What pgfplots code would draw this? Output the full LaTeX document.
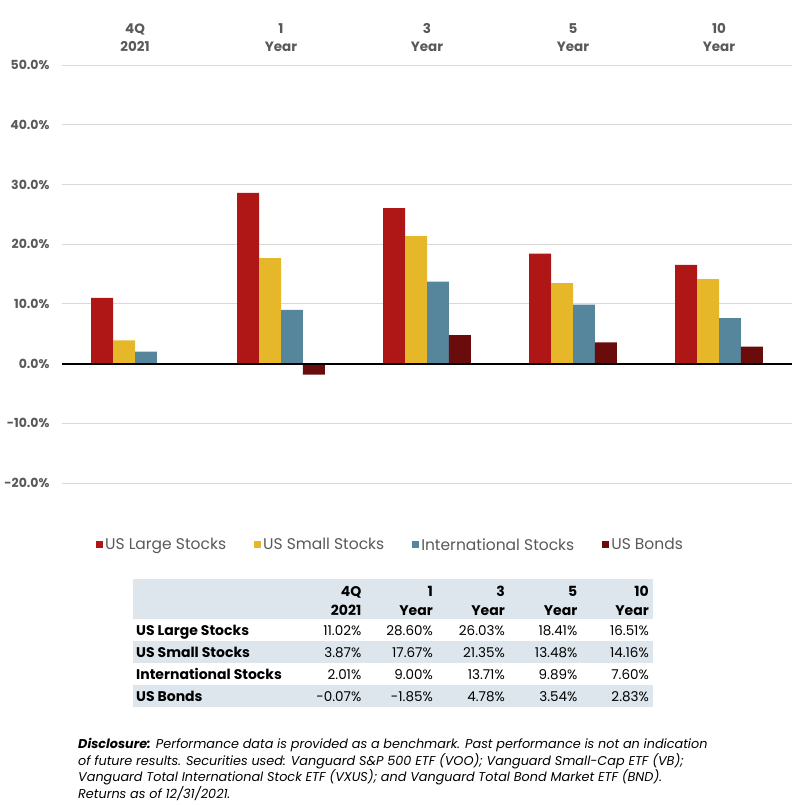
\documentclass[border=0pt]{standalone}
\usepackage{pgfplots}
\pgfplotsset{compat=1.18}
\usepackage{fontspec}
\setmainfont{Poppins}
\definecolor{cRed}{HTML}{AF1616}
\definecolor{cYel}{HTML}{E5B729}
\definecolor{cBlue}{HTML}{55869B}
\definecolor{cBond}{HTML}{6A0C0C}
\definecolor{tgray}{HTML}{595959}
\definecolor{ggray}{HTML}{D9D9D9}
\definecolor{tblue}{HTML}{DCE6EC}
\begin{document}
\begin{tikzpicture}[x=1pt,y=1pt]
\path[use as bounding box] (0,0) rectangle (797,-805);
\begin{axis}[
  at={(62pt,-483pt)}, anchor=south west,
  width=730pt, height=418pt, scale only axis,
  xmin=-0.5, xmax=4.5, ymin=-20, ymax=50,
  ybar=0pt, bar width=0.15,
  axis line style={draw=none},
  major tick length=0pt,
  ytick={-20,-10,...,50},
  ymajorgrids, grid style={draw=ggray, line width=1pt},
  /pgf/number format/assume math mode=true,
  yticklabel={\pgfmathprintnumber[fixed,fixed zerofill,precision=1]{\tick}\%},
  yticklabel style={font=\bfseries\fontsize{12.5}{14}\selectfont, text=tgray, xshift=-9pt},
  xtick={0,1,2,3,4},
  xticklabels={{4Q\\2021},{1\\Year},{3\\Year},{5\\Year},{10\\Year}},
  xticklabel pos=right,
  xticklabel style={align=center, font=\bfseries\fontsize{13.5}{18}\selectfont, text=tgray, yshift=10pt},
  legend style={at={(0.45,-0.148)}, anchor=center, draw=none, legend columns=4,
    font=\fontsize{15.5}{17}\selectfont, text=tgray,
    /tikz/every even column/.append style={column sep=26pt},
    nodes={inner sep=2pt}},
  legend cell align=left,
  legend image code/.code={\fill[#1] (0pt,-3.5pt) rectangle (7pt,3.5pt);},
]
\addplot[fill=cRed, draw=none] coordinates {(0,11.02) (1,28.60) (2,26.03) (3,18.41) (4,16.51)};
\addlegendentry{US Large Stocks}
\addplot[fill=cYel, draw=none] coordinates {(0,3.87) (1,17.67) (2,21.35) (3,13.48) (4,14.16)};
\addlegendentry{US Small Stocks}
\addplot[fill=cBlue, draw=none] coordinates {(0,2.01) (1,9.00) (2,13.71) (3,9.89) (4,7.60)};
\addlegendentry{International Stocks}
\addplot[fill=cBond, draw=none] coordinates {(0,-0.07) (1,-1.85) (2,4.78) (3,3.54) (4,2.83)};
\addlegendentry{US Bonds}
\draw[black, line width=2pt] (axis cs:-0.5,0) -- (axis cs:4.5,0);
\end{axis}
% table
\fill[tblue] (133,-579) rectangle (653,-619);
\fill[tblue] (133,-641) rectangle (653,-663);
\fill[tblue] (133,-685) rectangle (653,-707);
\begin{scope}[every node/.style={inner sep=0pt, font=\fontsize{13.5}{15}\selectfont}]
\foreach \x/\a/\b in {361.5/4Q/2021, 433/1/Year, 505/3/Year, 577.5/5/Year, 649/10/Year}{
  \node[anchor=base east, font=\bfseries\fontsize{14}{15}\selectfont] at (\x,-596) {\a};
  \node[anchor=base east, font=\bfseries\fontsize{14}{15}\selectfont] at (\x,-615) {\b};
}
\foreach \y/\lab in {-635/US Large Stocks, -657/US Small Stocks, -679/International Stocks, -701/US Bonds}{
  \node[anchor=base west, font=\bfseries\fontsize{14}{15}\selectfont] at (136,\y) {\lab};
}
\foreach \x/\v in {361.5/11.02\%, 433/28.60\%, 505/26.03\%, 577.5/18.41\%, 649/16.51\%}{
  \node[anchor=base east] at (\x,-635) {\v};}
\foreach \x/\v in {361.5/3.87\%, 433/17.67\%, 505/21.35\%, 577.5/13.48\%, 649/14.16\%}{
  \node[anchor=base east] at (\x,-657) {\v};}
\foreach \x/\v in {361.5/2.01\%, 433/9.00\%, 505/13.71\%, 577.5/9.89\%, 649/7.60\%}{
  \node[anchor=base east] at (\x,-679) {\v};}
\foreach \x/\v in {361.5/-0.07\%, 433/-1.85\%, 505/4.78\%, 577.5/3.54\%, 649/2.83\%}{
  \node[anchor=base east] at (\x,-701) {\v};}
\end{scope}
\node[anchor=north west, inner sep=0pt, align=left,
  font=\itshape\fontsize{12.8}{16.7}\selectfont] at (78,-738)
  {\textbf{Disclosure:} Performance data is provided as a benchmark. Past performance is not an indication\\
   of future results. Securities used: Vanguard S\&P 500 ETF (VOO); Vanguard Small-Cap ETF (VB);\\
   Vanguard Total International Stock ETF (VXUS); and Vanguard Total Bond Market ETF (BND).\\
   Returns as of 12/31/2021.};
\end{tikzpicture}
\end{document}
